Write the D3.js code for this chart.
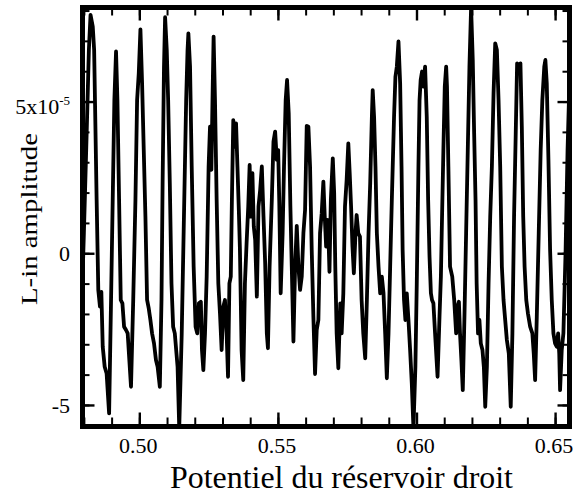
<!DOCTYPE html>
<html><head><meta charset="utf-8">
<script src="https://cdn.jsdelivr.net/npm/d3@7"></script>
<style>
html,body{margin:0;padding:0;background:#fff;}
svg{display:block;}
text{font-family:"Liberation Serif","Times New Roman",serif;fill:#000;}
</style>
</head><body>
<svg id="chart" width="574" height="500"></svg>
<script>
// Potentiel du réservoir droit (x)
const potential = [
0.4790,0.4800,0.4810,0.4818,0.4824,0.4832,0.4837,0.4841,0.4846,0.4852,0.4858,0.4863,0.4868,0.4875,0.4882,0.4891,
0.4898,0.4904,0.4910,0.4916,0.4921,0.4927,0.4933,0.4939,0.4945,0.4952,0.4958,0.4964,0.4970,
0.4978,0.4986,0.4992,0.4998,0.5004,0.5010,0.5016,0.5022,0.5028,0.5034,0.5040,0.5046,0.5053,0.5060,0.5066,0.5074,
0.5080,0.5084,0.5089,0.5093,0.5099,0.5104,0.5110,0.5116,0.5122,0.5128,0.5134,0.5138,0.5144,
0.5153,0.5161,0.5169,0.5174,0.5177,0.5183,0.5189,0.5196,0.5203,0.5209,0.5215,0.5222,0.5226,0.5231,
0.5237,0.5243,0.5250,0.5255,0.5260,0.5264,0.5268,0.5273,0.5279,0.5285,0.5291,0.5297,0.5303,0.5309,0.5315,0.5320,
0.5325,0.5330,0.5334,0.5339,0.5344,0.5349,0.5354,0.5359,0.5363,0.5369,0.5375,
0.5381,0.5387,0.5393,0.5398,0.5403,0.5408,0.5413,0.5418,0.5424,0.5430,0.5436,0.5442,0.5448,0.5454,0.5460,0.5464,
0.5470,0.5478,0.5484,0.5490,0.5496,0.5501,0.5505,0.5510,0.5517,0.5522,0.5528,0.5533,0.5539,0.5545,0.5550,0.5556,
0.5562,0.5568,0.5574,0.5580,0.5586,0.5592,0.5598,0.5604,0.5610,0.5616,0.5622,0.5628,0.5634,0.5640,0.5646,0.5652,
0.5658,0.5664,0.5669,0.5674,0.5679,0.5682,0.5686,0.5691,0.5694,0.5698,0.5703,0.5707,0.5712,0.5718,0.5725,0.5730,
0.5736,0.5742,0.5748,0.5754,0.5759,0.5764,0.5769,0.5774,0.5780,0.5784,0.5790,0.5796,0.5802,0.5808,0.5815,
0.5821,0.5827,0.5833,0.5839,0.5842,0.5847,0.5852,0.5857,0.5863,0.5869,0.5875,0.5881,0.5887,0.5893,
0.5899,0.5905,0.5911,0.5919,0.5924,0.5929,0.5935,0.5941,0.5946,0.5950,0.5955,0.5960,0.5965,0.5971,0.5977,0.5983,0.5989,
0.5996,0.6001,0.6007,0.6011,0.6015,0.6020,0.6025,0.6031,0.6037,0.6042,0.6047,0.6052,0.6056,0.6061,0.6067,0.6076,
0.6083,0.6088,
0.6091,0.6097,0.6102,0.6107,0.6110,0.6115,0.6121,0.6129,0.6136,0.6143,0.6148,0.6153,0.6157,0.6162,0.6167,
0.6173,0.6179,0.6185,0.6191,0.6197,0.6203,0.6208,0.6213,0.6217,0.6222,0.6227,0.6232,0.6238,0.6243,0.6248,
0.6254,0.6260,0.6266,0.6272,0.6278,0.6284,0.6290,0.6296,0.6302,0.6308,0.6314,0.6320,0.6326,0.6333,0.6340,
0.6346,0.6352,0.6358,0.6363,0.6369,0.6375,0.6380,0.6385,0.6390,0.6396,0.6402,0.6410,0.6418,0.6423,0.6428,
0.6434,0.6441,0.6448,0.6454,0.6461,0.6465,0.6470,0.6476,0.6482,0.6488,0.6494,0.6500,0.6506,0.6511,0.6515,0.6518,
0.6524,0.6530,0.6538,0.6545,0.6550
];
// L-in amplitude, in units of 1e-5
const amplitude = [
-2.42,0.66,3.95,6.70,7.86,7.47,6.70,4.50,1.76,-1.21,-1.76,-1.27,-3.08,-3.74,-3.96,-5.28,
-1.54,1.76,5.05,6.65,5.05,1.76,-1.54,-1.65,-2.42,-2.53,-2.64,-3.52,-4.40,
-1.54,1.76,5.05,5.93,7.38,5.60,3.40,1.21,-1.54,-1.82,-2.20,-2.64,-2.97,-3.52,-3.74,-4.40,
-1.54,2.31,6.15,7.78,6.70,5.05,2.31,-0.99,-2.42,-2.64,-3.30,-3.74,-5.77,
-2.64,1.21,5.05,6.70,7.25,6.15,2.86,-0.44,-2.42,-2.64,-1.65,-1.60,-3.19,-3.85,
-2.64,-0.77,2.86,4.17,2.75,5.05,7.14,5.05,1.76,-0.99,-1.98,-3.19,-1.76,-1.54,-2.64,-4.07,
-0.99,-0.77,1.76,4.39,3.51,4.28,2.86,1.43,0.11,-3.19,-4.18,
-0.99,0.33,1.54,2.91,1.21,2.64,0.88,0.44,-1.43,1.54,2.09,2.86,1.21,-0.33,-2.64,-3.13,
-0.44,1.76,3.68,4.01,3.08,3.40,1.65,-1.32,0.66,2.86,5.05,5.71,4.61,1.54,-0.44,-2.91,
-0.44,0.90,-0.44,-1.21,-0.77,0.66,1.43,4.20,4.17,2.86,0.11,-2.09,-3.98,-2.53,-2.20,0.66,
1.32,2.36,1.21,0.22,1.10,0.66,-0.61,1.76,2.36,3.13,1.98,-0.44,-2.64,-3.79,-1.65,-2.64,
-1.32,1.54,2.42,3.62,2.64,1.54,0.22,-0.66,0.66,1.26,0.66,0.55,-1.54,-2.64,-3.46,
-1.54,0.66,2.31,4.50,5.38,4.50,2.86,0.66,-0.44,-1.32,-0.77,-1.32,-2.64,-4.12,
-2.64,-0.44,1.76,4.50,5.82,6.15,6.98,5.60,2.86,0.11,-1.54,-2.20,-1.32,-2.20,-3.19,-4.29,-5.77,
-3.74,-0.99,2.86,5.05,5.71,5.99,5.49,6.15,4.50,1.76,-0.11,-1.32,-1.54,-1.65,-2.64,-4.07,
-2.09,-0.77,
0.66,3.40,5.49,6.15,5.49,2.86,-0.44,-0.77,-1.54,-2.64,-1.76,-1.60,-2.64,-3.52,-4.51,
-2.09,0.66,3.40,6.15,8.10,6.37,3.95,1.76,-0.99,-2.64,-2.20,-2.97,-3.19,-3.74,-5.06,
-3.74,-0.99,1.21,2.86,5.27,6.92,6.70,5.05,2.86,-0.44,-1.54,-2.20,-2.86,-3.30,-5.06,
-2.64,1.21,3.95,6.26,5.93,6.26,4.17,1.21,-0.44,-1.54,-1.98,-2.42,-2.64,-3.30,-4.18,
-2.09,0.66,3.40,5.05,6.15,6.37,5.60,3.08,0.11,-1.54,-2.64,-2.97,-3.08,-2.64,-3.30,-4.51,
-3.19,-2.64,0.11,3.40,5.05
];
const xTickValues = [0.50, 0.55, 0.60, 0.65];
const xTickLabels = ["0.50", "0.55", "0.60", "0.65"];
const xMinorTicks = [0.48,0.49,0.50,0.51,0.52,0.53,0.54,0.55,0.56,0.57,0.58,0.59,0.60,0.61,0.62,0.63,0.64,0.65];
const yTickValues = [5, 0, -5];
const yTickLabels = ["5x10", "0", "-5"];
const yMinorTicks = [-5,-4,-3,-2,-1,0,1,2,3,4,5,6,7,8];
const xTitle = "Potentiel du réservoir droit";
const yTitle = "L-in amplitude";

const svg = d3.select("#chart");
const L = 82.5, R = 569.5, T = 7.5, B = 426.5;
const x = d3.scaleLinear().domain([0.4795, 0.6552]).range([L, R]);
const y = d3.scaleLinear().domain([-5.71, 8.10]).range([B, T]);

const data = potential.map((p, i) => [p, amplitude[i]]).filter(d => d[1] !== undefined);

svg.append("defs").append("clipPath").attr("id", "clip")
  .append("rect").attr("x", L).attr("y", T).attr("width", R - L).attr("height", B - T);

svg.append("path").datum(data)
  .attr("clip-path", "url(#clip)")
  .attr("fill", "none").attr("stroke", "#000").attr("stroke-width", 3.8)
  .attr("stroke-linejoin", "round").attr("stroke-linecap", "round")
  .attr("d", d3.line().x(d => x(d[0])).y(d => y(d[1])));

function tickAxis(axis, tx, ty, w) {
  const g = svg.append("g").attr("transform", `translate(${tx},${ty})`).call(axis);
  g.select(".domain").remove();
  g.selectAll("line").attr("stroke", "#000").attr("stroke-width", w);
  g.selectAll("text").remove();
  return g;
}
// inner ticks on all four sides
tickAxis(d3.axisTop(x).tickValues(xMinorTicks).tickSize(9), 0, B, 2);
tickAxis(d3.axisTop(x).tickValues(xTickValues).tickSize(14), 0, B, 2.4);
tickAxis(d3.axisBottom(x).tickValues(xMinorTicks).tickSize(8), 0, T, 2);
tickAxis(d3.axisBottom(x).tickValues(xTickValues).tickSize(13), 0, T, 2.4);
tickAxis(d3.axisRight(y).tickValues(yMinorTicks).tickSize(7), L, 0, 2);
tickAxis(d3.axisRight(y).tickValues(yTickValues).tickSize(12), L, 0, 2.4);
tickAxis(d3.axisLeft(y).tickValues(yMinorTicks).tickSize(7), R, 0, 2);
tickAxis(d3.axisLeft(y).tickValues(yTickValues).tickSize(12), R, 0, 2.4);

// frame
svg.append("rect").attr("x", L).attr("y", T).attr("width", R - L).attr("height", B - T)
  .attr("fill", "none").attr("stroke", "#000").attr("stroke-width", 5);

// x tick labels
const gx = svg.append("g").attr("transform", `translate(0,${B})`)
  .call(d3.axisBottom(x).tickValues(xTickValues).tickSize(0)
    .tickFormat((d, i) => xTickLabels[i]));
gx.select(".domain").remove();
gx.selectAll("text").attr("y", 26.5).attr("dy", null).attr("dx", -1.5)
  .style("font-size", "22px").style("font-family", "'Liberation Serif','Times New Roman',serif");

// y tick labels
const gy = svg.append("g").attr("transform", `translate(${L},0)`)
  .call(d3.axisLeft(y).tickValues(yTickValues).tickSize(0).tickPadding(12.5)
    .tickFormat((d, i) => yTickLabels[i]));
gy.select(".domain").remove();
gy.selectAll("text")
  .style("font-size", "22px").style("font-family", "'Liberation Serif','Times New Roman',serif")
  .attr("dy", d => d === 5 ? 11.6 : 7.5)
  .each(function(d, i) {
    if (d === 5) {
      const t = d3.select(this);
      const label = yTickLabels[i];
      t.text(null);
      t.append("tspan").text(label);
      t.append("tspan").text("-5").style("font-size", "13px").attr("dy", -8.5);
    }
  });

// axis titles
svg.append("text").attr("x", 341.5).attr("y", 488.3).attr("text-anchor", "middle")
  .style("font-size", "31px").attr("textLength", 343).attr("lengthAdjust", "spacingAndGlyphs")
  .text(xTitle);
svg.append("text").attr("transform", "translate(37,219) rotate(-90)").attr("text-anchor", "middle")
  .style("font-size", "23px").attr("textLength", 172).attr("lengthAdjust", "spacingAndGlyphs")
  .text(yTitle);
</script>
</body></html>
